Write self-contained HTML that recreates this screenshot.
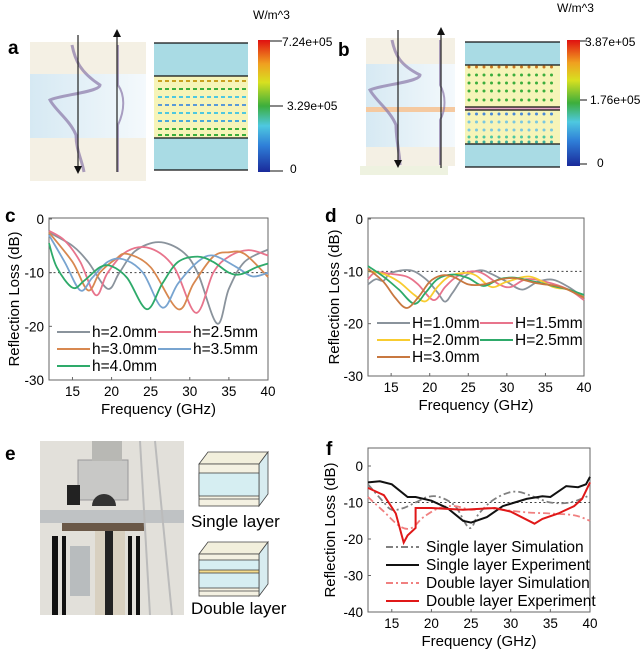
<!DOCTYPE html>
<html><head><meta charset="utf-8"><style>
body{margin:0;background:#fff}
svg{display:block;font-family:"Liberation Sans",Arial,sans-serif}
</style></head><body>
<svg id="s" width="640" height="653" viewBox="0 0 640 653" xmlns="http://www.w3.org/2000/svg">
<defs>
<linearGradient id="cb" x1="0" y1="1" x2="0" y2="0">
<stop offset="0" stop-color="#1a2a9a"/><stop offset="0.2" stop-color="#2f7fd8"/><stop offset="0.35" stop-color="#4ec8e0"/><stop offset="0.5" stop-color="#3cae3c"/><stop offset="0.68" stop-color="#d8e020"/><stop offset="0.82" stop-color="#f0a020"/><stop offset="1" stop-color="#e01010"/>
</linearGradient>
<linearGradient id="bw" x1="0" y1="0" x2="1" y2="0"><stop offset="0" stop-color="#d6e9f3"/><stop offset="1" stop-color="#f4f9fc"/></linearGradient>
</defs>
<text x="8" y="54" font-size="19" font-weight="bold">a</text>
<rect x="30" y="42" width="116" height="139" fill="#f4f0e4"/>
<rect x="30" y="74" width="116" height="64" fill="url(#bw)"/>
<path d="M72 45 C75 60,80 72,100 85 C100 92,60 95,50 100 C55 110,70 120,76 135 C76 150,82 160,84 172" stroke="#8a78a8" stroke-width="3" fill="none" opacity="0.7"/>
<path d="M118 45 L118 85 C125 95,125 110,118 125 L118 172" stroke="#8a78a8" stroke-width="2" fill="none" opacity="0.7"/>
<line x1="78" y1="35" x2="78" y2="168" stroke="#222" stroke-width="1.2"/><path d="M74 166 L82 166 L78 174Z" fill="#111"/>
<line x1="117" y1="36" x2="117" y2="172" stroke="#222" stroke-width="1.2"/><path d="M113 37 L121 37 L117 29Z" fill="#111"/>
<rect x="154" y="43" width="94" height="33" fill="#a9dbe4"/>
<rect x="154" y="76" width="94" height="62" fill="#f6f4b8"/>
<rect x="154" y="138" width="94" height="32" fill="#a9dbe4"/>
<g stroke="#111" stroke-width="1.2"><line x1="154" y1="43" x2="248" y2="43"/><line x1="154" y1="76" x2="248" y2="76"/><line x1="154" y1="138" x2="248" y2="138"/><line x1="154" y1="170" x2="248" y2="170"/></g>
<g id="dotsA"></g>
<rect x="258" y="40" width="12" height="132" fill="url(#cb)"/>
<g font-size="12"><text x="253" y="19">W/m^3</text><text x="282" y="46">7.24e+05</text><text x="287" y="110">3.29e+05</text><text x="290" y="173">0</text></g>
<g stroke="#111"><line x1="270" y1="41" x2="282" y2="41"/><line x1="270" y1="106" x2="283" y2="106"/><line x1="270" y1="171" x2="283" y2="171"/></g>
<text x="338" y="56" font-size="19" font-weight="bold">b</text>
<rect x="366" y="38" width="89" height="128" fill="#f4f0e4"/>
<rect x="360" y="166" width="88" height="9" fill="#eef2e0"/>
<rect x="366" y="64" width="89" height="83" fill="url(#bw)"/>
<rect x="366" y="107" width="89" height="5" fill="#f5c9a0"/>
<path d="M392 40 C395 55,400 65,420 75 C420 82,380 85,370 90 C375 100,390 110,396 125 C396 140,400 155,400 165" stroke="#8a78a8" stroke-width="3" fill="none" opacity="0.7"/>
<path d="M440 40 L440 85 C446 95,446 110,440 120 L440 165" stroke="#8a78a8" stroke-width="2" fill="none" opacity="0.7"/>
<line x1="398" y1="30" x2="398" y2="162" stroke="#222" stroke-width="1.2"/><path d="M394 160 L402 160 L398 168Z" fill="#111"/>
<line x1="441" y1="34" x2="441" y2="168" stroke="#222" stroke-width="1.2"/><path d="M437 35 L445 35 L441 27Z" fill="#111"/>
<rect x="465" y="42" width="95" height="23" fill="#a9dbe4"/>
<rect x="465" y="65" width="95" height="42" fill="#f6f4b8"/>
<rect x="465" y="107" width="95" height="3" fill="#e9a8c8"/>
<rect x="465" y="110" width="95" height="34" fill="#f6f4b8"/>
<rect x="465" y="144" width="95" height="23" fill="#a9dbe4"/>
<g stroke="#111" stroke-width="1.2"><line x1="465" y1="42" x2="560" y2="42"/><line x1="465" y1="65" x2="560" y2="65"/><line x1="465" y1="107" x2="560" y2="107"/><line x1="465" y1="110" x2="560" y2="110"/><line x1="465" y1="144" x2="560" y2="144"/><line x1="465" y1="167" x2="560" y2="167"/></g>
<g id="dotsB"></g>
<rect x="567" y="40" width="13" height="126" fill="url(#cb)"/>
<g font-size="12"><text x="557" y="12">W/m^3</text><text x="585" y="46">3.87e+05</text><text x="590" y="104">1.76e+05</text><text x="597" y="167">0</text></g>
<g stroke="#111"><line x1="580" y1="41" x2="587" y2="41"/><line x1="580" y1="100" x2="587" y2="100"/><line x1="580" y1="164" x2="587" y2="164"/></g>
<text x="5" y="460" font-size="19" font-weight="bold">e</text>
<rect x="40" y="441" width="144" height="174" fill="#e2e0da"/>
<rect x="78" y="460" width="50" height="40" fill="#c8c8c6" stroke="#999"/>
<rect x="92" y="441" width="30" height="20" fill="#b8b8b4"/>
<rect x="67" y="485" width="13" height="20" fill="#222"/>
<path d="M92 506 A12 12 0 0 1 116 506Z" fill="#333"/>
<rect x="40" y="510" width="144" height="13" fill="#bfc2c4"/>
<rect x="62" y="523" width="82" height="8" fill="#6a5848"/>
<rect x="95" y="531" width="30" height="84" fill="#d8d0c0"/><rect x="105" y="531" width="8" height="84" fill="#222"/>
<rect x="52" y="536" width="6" height="79" fill="#111"/><rect x="62" y="536" width="4" height="79" fill="#111"/>
<rect x="128" y="536" width="4" height="79" fill="#111"/><rect x="136" y="536" width="4" height="79" fill="#111"/>
<rect x="70" y="546" width="20" height="50" fill="#b8bcbe"/>
<line x1="140" y1="441" x2="150" y2="615" stroke="#bbb" stroke-width="2"/><line x1="155" y1="441" x2="172" y2="615" stroke="#bbb" stroke-width="2"/>
<g stroke="#444" stroke-width="0.8">
<path d="M199 464 L208 452 L268 452 L259 464Z" fill="#f2efdc"/>
<path d="M259 464 L268 452 L268 494 L259 506Z" fill="#d8ecf0"/>
<rect x="199" y="464" width="60" height="42" fill="#f4f1e2"/>
<rect x="199" y="473" width="60" height="23" fill="#d6eef2"/>
<line x1="199" y1="499" x2="259" y2="499"/>
<path d="M199 554 L208 542 L268 542 L259 554Z" fill="#f2efdc"/>
<path d="M259 554 L268 542 L268 584 L259 596Z" fill="#d8ecf0"/>
<rect x="199" y="554" width="60" height="42" fill="#f4f1e2"/>
<rect x="199" y="560" width="60" height="28" fill="#d6eef2"/>
<rect x="199" y="570" width="60" height="3" fill="#f4dc8c"/>
<line x1="199" y1="591" x2="259" y2="591"/>
</g>
<g font-size="17"><text x="191" y="527">Single layer</text><text x="191" y="614">Double layer</text></g>
<g id="charts"></g>
</svg>
<script>
const NS="http://www.w3.org/2000/svg";
function el(p,t,a,txt){const e=document.createElementNS(NS,t);for(const k in a)e.setAttribute(k,a[k]);if(txt!==undefined)e.textContent=txt;p.appendChild(e);return e;}
(function(){const g=document.getElementById('dotsA');const rows=[[81,'#c8a020'],[89,'#3cae3c'],[97,'#4ec8e0'],[105,'#5a9ad8'],[113,'#4ec8e0'],[121,'#4aa8d8'],[129,'#3cae3c'],[135,'#3cae3c']];
for(const [y,c] of rows)for(let x=158;x<246;x+=7)el(g,'rect',{x:x,y:y-1,width:4,height:2,fill:c});
const g2=document.getElementById('dotsB');const r2=[[67,'#c87820'],[75,'#3cae3c'],[83,'#3cae3c'],[91,'#3cae3c'],[100,'#3cae3c'],[114,'#4a8ad8'],[122,'#7ac8e0'],[130,'#7ac8e0'],[137,'#4ec8a0'],[142,'#3cae9c']];
for(const [y,c] of r2)for(let x=469;x<558;x+=7.5)el(g2,'circle',{cx:x,cy:y,r:1.5,fill:c});})();
const C=document.getElementById('charts');
function cr(pts){let d='M'+pts[0][0].toFixed(1)+' '+pts[0][1].toFixed(1);for(let i=0;i<pts.length-1;i++){const p0=pts[i-1]||pts[i],p1=pts[i],p2=pts[i+1],p3=pts[i+2]||p2;d+=' C'+(p1[0]+(p2[0]-p0[0])/6).toFixed(1)+' '+(p1[1]+(p2[1]-p0[1])/6).toFixed(1)+','+(p2[0]-(p3[0]-p1[0])/6).toFixed(1)+' '+(p2[1]-(p3[1]-p1[1])/6).toFixed(1)+','+p2[0].toFixed(1)+' '+p2[1].toFixed(1);}return d;}
function chart(o){
 const X=f=>o.x0+(f-12)*(o.x1-o.x0)/28, Y=v=>o.yz+(-v)*o.k;
 const bottom=Y(o.ymin);
 el(C,'rect',{x:o.x0,y:o.top,width:o.x1-o.x0,height:bottom-o.top,fill:'none',stroke:'#666','stroke-width':1});
 el(C,'line',{x1:o.x0,y1:Y(-10),x2:o.x1,y2:Y(-10),stroke:'#444','stroke-dasharray':'2,2.5','stroke-width':1});
 for(const s of o.series){const pts=s.p.map(q=>[X(q[0]),Y(q[1])]);
  const d=s.lin?'M'+pts.map(p=>p[0].toFixed(1)+' '+p[1].toFixed(1)).join(' L'):cr(pts);
  const a={d:d,fill:'none',stroke:s.c,'stroke-width':s.w||1.8};if(s.da)a['stroke-dasharray']=s.da;el(C,'path',a);}
 for(let f=15;f<=40;f+=5){el(C,'text',{x:X(f),y:bottom+16,'font-size':13.5,'text-anchor':'middle'},String(f));el(C,'line',{x1:X(f),y1:bottom,x2:X(f),y2:bottom-3,stroke:'#666'});}
 for(const v of o.yt){el(C,'text',{x:o.x0-5,y:Y(v)+5,'font-size':13.5,'text-anchor':'end'},String(v));el(C,'line',{x1:o.x0,y1:Y(v),x2:o.x0+3,y2:Y(v),stroke:'#666'});}
 el(C,'text',{x:(o.x0+o.x1)/2,y:bottom+34,'font-size':15,'text-anchor':'middle'},'Frequency (GHz)');
 const cy=(o.top+bottom)/2;el(C,'text',{x:o.ylx,y:cy,'font-size':15,'text-anchor':'middle',transform:'rotate(-90 '+o.ylx+' '+cy+')'},'Reflection Loss (dB)');
 for(const L of o.leg){const a={x1:L[0],y1:L[1],x2:L[0]+33,y2:L[1],stroke:L[3],'stroke-width':2};if(L[4])a['stroke-dasharray']=L[4];el(C,'line',a);el(C,'text',{x:L[0]+35+(L[5]||0),y:L[1]+5,'font-size':15.5},L[2]);}
}
chart({x0:49,x1:268,top:218,yz:219,k:161/30,ymin:-30,yt:[0,-10,-20,-30],ylx:19,
series:[
{c:'#8a939c',p:[[12,-2.5],[15,-5],[17,-8],[19.5,-13],[21,-10],[23,-6],[26,-4.3],[29,-6],[31,-10],[33.5,-19.5],[35,-13],[37,-8],[40,-5.7]]},
{c:'#e8748c',p:[[12,-2.2],[14,-4],[16,-8],[18,-14.2],[19.5,-10],[22,-6],[25,-5.5],[28,-9],[30.8,-17.5],[33,-10],[35,-7],[37.5,-5.8],[40,-6.8]]},
{c:'#d88850',p:[[12,-2.5],[15,-8],[17,-13.3],[18.5,-10],[20.5,-7.5],[22,-6.5],[25,-9],[28.5,-16.8],[30.5,-12],[33,-7],[35,-6.2],[37,-6.5],[40,-10.8]]},
{c:'#78a4d0',p:[[12,-3],[14,-8],[16,-13.3],[17.5,-11],[19.5,-8],[21.5,-7.5],[24,-10],[26.5,-16.5],[28.5,-12],[31,-8],[33,-6.8],[36,-9],[38,-10.7],[40,-10]]},
{c:'#2eaa6a',p:[[12,-4.5],[13,-9],[15,-12.8],[16.5,-11.5],[18.5,-9],[20,-8.8],[22,-11],[24.5,-16.8],[26.5,-12],[28.5,-8],[31,-7],[33,-8],[35,-10],[36.5,-10.3],[38.5,-9],[40,-8.3]]}],
leg:[[57,332,'h=2.0mm','#8a939c'],[158,332,'h=2.5mm','#e8748c'],[57,349,'h=3.0mm','#d88850'],[158,349,'h=3.5mm','#78a4d0'],[57,366,'h=4.0mm','#2eaa6a']]});
chart({x0:368,x1:584,top:218,yz:219,k:157/30,ymin:-30,yt:[0,-10,-20,-30],ylx:339,
series:[
{c:'#8a939c',p:[[12,-12.5],[13,-11.5],[14,-11.8],[15,-10.3],[17.5,-9.8],[19.5,-11.5],[21,-14],[22,-15.8],[23,-14],[24.5,-11],[26.5,-9.8],[28,-10.5],[30,-12],[32,-13.5],[34,-12],[36,-11.6],[38,-13],[40,-15]]},
{c:'#e8748c',p:[[12,-11.5],[13,-10.2],[15,-10.5],[17,-11],[18.5,-12.5],[20.5,-15.5],[22,-13],[23.5,-11],[25.5,-10],[27,-10.5],[29,-12.5],[30.5,-13],[32.5,-11.5],[35,-12],[38,-13.5],[40,-15.5]]},
{c:'#f8cc30',p:[[12,-10],[14,-10.5],[16,-12],[18,-14.5],[19.5,-15.7],[21,-13],[22.5,-11],[24.5,-10.3],[26,-10.8],[28,-13],[30,-12],[33,-11],[36,-13],[38,-13.5],[40,-15]]},
{c:'#2eaa6a',p:[[12,-9],[14,-11],[16,-13.5],[18,-16.2],[19.5,-14],[21,-11.5],[23,-10.6],[25,-11.3],[27,-12.8],[29,-11.5],[31,-11.2],[33,-11.8],[36,-12.8],[38,-13.5],[40,-14.5]]},
{c:'#c87840',p:[[12,-9.5],[14,-12],[15.5,-15],[17,-17],[18.5,-15],[20,-12],[21.5,-10.8],[23,-11],[25,-12.5],[27,-12.5],[29,-11.6],[31,-11.3],[34,-12.3],[37,-13],[40,-15]]}],
leg:[[377,323,'H=1.0mm','#8a939c'],[480,323,'H=1.5mm','#e8748c'],[377,340,'H=2.0mm','#f8cc30'],[480,340,'H=2.5mm','#2eaa6a'],[377,357,'H=3.0mm','#c87840']]});
chart({x0:368,x1:590,top:448,yz:466,k:146/40,ymin:-40,yt:[0,-10,-20,-30,-40],ylx:335,
series:[
{c:'#808080',da:'7,3,2,3',p:[[12,-5],[14,-10],[15,-12],[16.5,-11.5],[18,-10],[19.5,-8.5],[21,-8.5],[23,-11],[24.8,-17],[26,-13],[28,-9],[30.5,-7],[33,-8.5],[35,-10],[37.5,-10],[40,-8]]},
{c:'#f08080',da:'7,3,2,3',p:[[12,-8.5],[14,-12.5],[16,-16.5],[17.5,-17],[19,-14],[21,-11.5],[23,-11],[25,-12],[27,-11.5],[29,-12],[32,-12.7],[35,-13],[38,-13.5],[40,-15]]},
{c:'#111',lin:1,w:2,p:[[12,-4.5],[13.5,-4.2],[15,-5],[17,-8.5],[18,-8.5],[20,-9.5],[22,-11.5],[24,-15],[25,-15.5],[27,-14],[29,-11],[30.5,-10],[32,-9],[34,-8.3],[35,-8.5],[37,-5.5],[38.5,-5.8],[39.5,-5],[40,-3]]},
{c:'#e01818',lin:1,w:2,p:[[12,-6],[14,-8],[15.5,-13],[16.5,-21],[17,-19],[18,-17],[18,-11.5],[20,-11.5],[24,-12],[28,-11.5],[30,-12.5],[33,-15.8],[34,-14.5],[36,-13],[38,-11],[39,-9],[40,-4.5]]}],
leg:[[386,547,'Single layer Simulation','#808080','7,3,2,3',5],[386,565,'Single layer Experiment','#111',0,5],[386,583,'Double layer Simulation','#f08080','7,3,2,3',5],[386,601,'Double layer Experiment','#e01818',0,5]]});
el(C,'text',{x:5,y:222,'font-size':19,'font-weight':'bold'},'c');
el(C,'text',{x:325,y:222,'font-size':19,'font-weight':'bold'},'d');
el(C,'text',{x:326,y:455,'font-size':19,'font-weight':'bold'},'f');
</script>
</body></html>
